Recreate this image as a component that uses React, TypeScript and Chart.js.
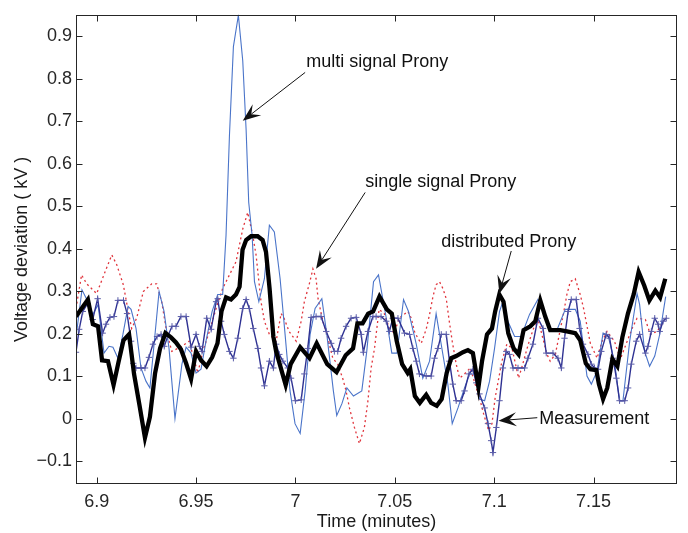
import React, { useEffect, useRef } from 'react';
import { Chart, registerables } from 'chart.js';

Chart.register(...registerables);

type Pt = [number, number];

const X_TICKS = [6.9, 6.95, 7, 7.05, 7.1, 7.15];
const Y_TICKS = [-0.1, 0, 0.1, 0.2, 0.3, 0.4, 0.5, 0.6, 0.7, 0.8, 0.9];
const X_MIN = 6.8896;
const X_MAX = 7.192;
const Y_MIN = -0.153;
const Y_MAX = 0.951;

const X_TITLE = 'Time (minutes)';
const Y_TITLE = 'Voltage deviation ( kV )';

const FONT = '"Liberation Sans", Arial, Helvetica, sans-serif';

// thick black line
const distributedProny: Pt[] = [
  [6.8896, 0.241], [6.8956, 0.281], [6.8981, 0.223], [6.9007, 0.218], [6.9027, 0.138], [6.9057, 0.136],
  [6.9085, 0.080], [6.9110, 0.134], [6.9135, 0.185], [6.9163, 0.199], [6.9188, 0.106], [6.9216, 0.031],
  [6.9243, -0.044], [6.9268, 0.005], [6.9294, 0.108], [6.9319, 0.166], [6.9346, 0.202], [6.9374, 0.192],
  [6.9399, 0.180], [6.9424, 0.164], [6.9450, 0.131], [6.9475, 0.094], [6.9500, 0.159], [6.9525, 0.138],
  [6.9553, 0.124], [6.9581, 0.145], [6.9608, 0.178], [6.9628, 0.253], [6.9651, 0.286], [6.9676, 0.281],
  [6.9701, 0.293], [6.9719, 0.311], [6.9734, 0.398], [6.9752, 0.421], [6.9777, 0.430], [6.9810, 0.430],
  [6.9835, 0.421], [6.9852, 0.393], [6.9870, 0.307], [6.9889, 0.194], [6.9903, 0.159], [6.9951, 0.080],
  [6.9976, 0.129], [7.0024, 0.169], [7.0071, 0.143], [7.0107, 0.178], [7.0160, 0.129], [7.0207, 0.110],
  [7.0253, 0.150], [7.0290, 0.166], [7.0312, 0.225], [7.0338, 0.225], [7.0366, 0.248], [7.0391, 0.253],
  [7.0423, 0.288], [7.0460, 0.258], [7.0485, 0.248], [7.0510, 0.183], [7.0537, 0.129], [7.0565, 0.108],
  [7.0578, 0.117], [7.0601, 0.054], [7.0626, 0.038], [7.0658, 0.057], [7.0683, 0.038], [7.0711, 0.031],
  [7.0736, 0.047], [7.0761, 0.108], [7.0784, 0.143], [7.0809, 0.148], [7.0843, 0.157], [7.0868, 0.162],
  [7.0893, 0.155], [7.0921, 0.075], [7.0939, 0.136], [7.0964, 0.199], [7.0989, 0.213], [7.1005, 0.253],
  [7.1026, 0.293], [7.1047, 0.276], [7.1071, 0.202], [7.1098, 0.166], [7.1123, 0.152], [7.1148, 0.209],
  [7.1182, 0.218], [7.1207, 0.230], [7.1232, 0.279], [7.1257, 0.241], [7.1282, 0.209], [7.1333, 0.209],
  [7.1366, 0.206], [7.1408, 0.202], [7.1433, 0.185], [7.1461, 0.131], [7.1484, 0.117], [7.1514, 0.115],
  [7.1527, 0.082], [7.1548, 0.047], [7.1569, 0.073], [7.1595, 0.141], [7.1620, 0.124], [7.1645, 0.192],
  [7.1673, 0.248], [7.1702, 0.293], [7.1727, 0.346], [7.1755, 0.314], [7.1781, 0.279], [7.1811, 0.302],
  [7.1835, 0.286], [7.1861, 0.330],
];

// thin blue line
const multiSignalProny: Pt[] = [
  [6.8896, 0.192], [6.8926, 0.304], [6.8956, 0.276], [6.8981, 0.246], [6.9007, 0.269], [6.9037, 0.155],
  [6.9062, 0.171], [6.9082, 0.169], [6.9107, 0.143], [6.9132, 0.199], [6.9158, 0.265], [6.9173, 0.258],
  [6.9198, 0.213], [6.9223, 0.120], [6.9248, 0.089], [6.9268, 0.073], [6.9314, 0.300], [6.9339, 0.253],
  [6.9364, 0.166], [6.9394, 0.001], [6.9429, 0.129], [6.9450, 0.169], [6.9475, 0.155], [6.9500, 0.108],
  [6.9525, 0.117], [6.9550, 0.183], [6.9581, 0.253], [6.9609, 0.293], [6.9634, 0.293], [6.9651, 0.433],
  [6.9668, 0.666], [6.9688, 0.876], [6.9713, 0.950], [6.9735, 0.843], [6.9752, 0.680], [6.9765, 0.510],
  [6.9782, 0.433], [6.9794, 0.323], [6.9816, 0.276], [6.9844, 0.330], [6.9869, 0.456], [6.9894, 0.440],
  [6.9923, 0.330], [6.9948, 0.199], [6.9973, 0.066], [6.9998, -0.011], [7.0024, -0.034], [7.0049, 0.066],
  [7.0074, 0.199], [7.0099, 0.260], [7.0133, 0.283], [7.0158, 0.199], [7.0191, 0.066], [7.0208, 0.008],
  [7.0234, 0.036], [7.0259, 0.073], [7.0292, 0.054], [7.0334, 0.066], [7.0359, 0.159], [7.0393, 0.323],
  [7.0418, 0.339], [7.0460, 0.230], [7.0485, 0.155], [7.0511, 0.155], [7.0544, 0.281], [7.0569, 0.253],
  [7.0608, 0.176], [7.0641, 0.096], [7.0675, 0.136], [7.0708, 0.248], [7.0742, 0.152], [7.0767, 0.082],
  [7.0789, -0.011], [7.0818, 0.026], [7.0851, 0.073], [7.0876, 0.106], [7.0910, 0.106], [7.0926, 0.047],
  [7.0952, 0.043], [7.0977, 0.089], [7.1002, 0.166], [7.1027, 0.253], [7.1044, 0.276], [7.1069, 0.230],
  [7.1103, 0.194], [7.1136, 0.194], [7.1178, 0.246], [7.1220, 0.281], [7.1254, 0.246], [7.1279, 0.206],
  [7.1313, 0.206], [7.1358, 0.258], [7.1408, 0.258], [7.1433, 0.230], [7.1467, 0.101], [7.1489, 0.082],
  [7.1518, 0.113], [7.1548, 0.202], [7.1573, 0.197], [7.1605, 0.136], [7.1631, 0.043], [7.1648, 0.043],
  [7.1682, 0.183], [7.1719, 0.295], [7.1732, 0.269], [7.1757, 0.159], [7.1782, 0.124], [7.1808, 0.148],
  [7.1833, 0.199], [7.1863, 0.288],
];

// red dotted line
const singleSignalProny: Pt[] = [
  [6.8896, 0.260], [6.8924, 0.339], [6.8950, 0.318], [6.9000, 0.295], [6.9042, 0.346], [6.9076, 0.386],
  [6.9101, 0.363], [6.9134, 0.316], [6.9159, 0.253], [6.9176, 0.213], [6.9201, 0.237], [6.9235, 0.300],
  [6.9277, 0.318], [6.9302, 0.318], [6.9327, 0.276], [6.9352, 0.206], [6.9378, 0.159], [6.9429, 0.171],
  [6.9465, 0.183], [6.9509, 0.108], [6.9534, 0.159], [6.9567, 0.206], [6.9601, 0.260], [6.9634, 0.307],
  [6.9668, 0.339], [6.9701, 0.370], [6.9735, 0.447], [6.9760, 0.486], [6.9785, 0.433], [6.9802, 0.386],
  [6.9827, 0.276], [6.9844, 0.230], [6.9869, 0.199], [6.9903, 0.183], [6.9928, 0.248], [6.9943, 0.237],
  [6.9968, 0.206], [7.0004, 0.183], [7.0029, 0.230], [7.0045, 0.276], [7.0070, 0.318], [7.0088, 0.353],
  [7.0104, 0.330], [7.0114, 0.283], [7.0138, 0.230], [7.0155, 0.206], [7.0188, 0.143], [7.0213, 0.129],
  [7.0239, 0.094], [7.0255, 0.066], [7.0272, 0.026], [7.0297, -0.020], [7.0322, -0.058], [7.0347, -0.020],
  [7.0365, 0.043], [7.0381, 0.120], [7.0398, 0.166], [7.0421, 0.258], [7.0447, 0.248], [7.0473, 0.213],
  [7.0497, 0.202], [7.0522, 0.237], [7.0566, 0.253], [7.0583, 0.237], [7.0599, 0.206], [7.0616, 0.190],
  [7.0633, 0.178], [7.0658, 0.211], [7.0675, 0.246], [7.0692, 0.288], [7.0708, 0.316], [7.0725, 0.323],
  [7.0742, 0.307], [7.0759, 0.283], [7.0772, 0.237], [7.0789, 0.183], [7.0809, 0.129], [7.0826, 0.096],
  [7.0851, 0.106], [7.0880, 0.120], [7.0910, 0.073], [7.0930, 0.043], [7.0947, 0.012], [7.0972, -0.027],
  [7.0989, -0.011], [7.1005, 0.050], [7.1039, 0.136], [7.1064, 0.176], [7.1090, 0.166], [7.1123, 0.096],
  [7.1148, 0.136], [7.1173, 0.178], [7.1198, 0.213], [7.1223, 0.230], [7.1266, 0.152], [7.1282, 0.136],
  [7.1308, 0.152], [7.1324, 0.190], [7.1349, 0.248], [7.1366, 0.293], [7.1383, 0.323], [7.1408, 0.330],
  [7.1433, 0.293], [7.1450, 0.260], [7.1484, 0.178], [7.1518, 0.143], [7.1543, 0.183], [7.1568, 0.206],
  [7.1605, 0.183], [7.1635, 0.141], [7.1694, 0.213], [7.1719, 0.237], [7.1761, 0.234], [7.1786, 0.199],
  [7.1820, 0.206], [7.1853, 0.230],
];

// navy line with + markers
const measurement: Pt[] = [
  [6.8896, 0.157], [6.8912, 0.211], [6.8930, 0.253], [6.8955, 0.272], [6.8980, 0.234], [6.9005, 0.283],
  [6.9030, 0.202], [6.9047, 0.223], [6.9067, 0.239], [6.9087, 0.241], [6.9107, 0.279], [6.9135, 0.279],
  [6.9153, 0.248], [6.9173, 0.183], [6.9184, 0.131], [6.9198, 0.120], [6.9223, 0.120], [6.9243, 0.120],
  [6.9263, 0.145], [6.9283, 0.176], [6.9304, 0.194], [6.9324, 0.199], [6.9340, 0.171], [6.9357, 0.194],
  [6.9379, 0.218], [6.9399, 0.218], [6.9424, 0.241], [6.9450, 0.241], [6.9475, 0.169], [6.9500, 0.199],
  [6.9517, 0.171], [6.9530, 0.159], [6.9554, 0.237], [6.9576, 0.211], [6.9601, 0.276], [6.9609, 0.283],
  [6.9626, 0.230], [6.9642, 0.199], [6.9668, 0.159], [6.9688, 0.143], [6.9710, 0.190], [6.9735, 0.260],
  [6.9752, 0.281], [6.9768, 0.260], [6.9788, 0.213], [6.9811, 0.166], [6.9827, 0.120], [6.9844, 0.078],
  [6.9869, 0.136], [6.9889, 0.120], [6.9903, 0.176], [6.9919, 0.152], [6.9937, 0.136], [6.9962, 0.120],
  [6.9978, 0.096], [7.0000, 0.043], [7.0029, 0.045], [7.0045, 0.106], [7.0062, 0.166], [7.0079, 0.239],
  [7.0104, 0.241], [7.0129, 0.241], [7.0155, 0.206], [7.0180, 0.178], [7.0196, 0.159], [7.0213, 0.159],
  [7.0230, 0.190], [7.0255, 0.218], [7.0280, 0.237], [7.0306, 0.239], [7.0331, 0.199], [7.0342, 0.157],
  [7.0365, 0.206], [7.0390, 0.241], [7.0406, 0.241], [7.0431, 0.241], [7.0457, 0.230], [7.0473, 0.206],
  [7.0490, 0.237], [7.0516, 0.237], [7.0549, 0.202], [7.0574, 0.199], [7.0591, 0.166], [7.0608, 0.136],
  [7.0624, 0.106], [7.0658, 0.101], [7.0683, 0.101], [7.0700, 0.143], [7.0717, 0.166], [7.0734, 0.199],
  [7.0759, 0.199], [7.0775, 0.136], [7.0792, 0.082], [7.0809, 0.043], [7.0834, 0.043], [7.0851, 0.066],
  [7.0873, 0.106], [7.0893, 0.117], [7.0910, 0.085], [7.0926, 0.059], [7.0952, 0.026], [7.0969, -0.011],
  [7.0985, -0.051], [7.0994, -0.079], [7.1011, -0.020], [7.1027, 0.043], [7.1044, 0.120], [7.1061, 0.159],
  [7.1077, 0.152], [7.1095, 0.120], [7.1120, 0.120], [7.1153, 0.120], [7.1170, 0.143], [7.1195, 0.176],
  [7.1220, 0.237], [7.1246, 0.213], [7.1262, 0.155], [7.1296, 0.155], [7.1321, 0.143], [7.1338, 0.120],
  [7.1354, 0.190], [7.1372, 0.253], [7.1388, 0.281], [7.1413, 0.281], [7.1430, 0.213], [7.1447, 0.176],
  [7.1472, 0.152], [7.1489, 0.129], [7.1505, 0.120], [7.1523, 0.117], [7.1539, 0.159], [7.1564, 0.199],
  [7.1581, 0.190], [7.1598, 0.143], [7.1615, 0.096], [7.1631, 0.043], [7.1657, 0.043], [7.1674, 0.073],
  [7.1690, 0.129], [7.1715, 0.183], [7.1732, 0.199], [7.1761, 0.155], [7.1774, 0.171], [7.1791, 0.206],
  [7.1808, 0.237], [7.1825, 0.223], [7.1833, 0.206], [7.1850, 0.230], [7.1866, 0.237],
];

// text annotations with arrows (data coordinates)
type Note = { text: string; at: Pt; from: Pt; to: Pt };
const NOTES: Note[] = [
  { text: 'multi signal Prony', at: [7.0054, 0.8387], from: [7.0049, 0.8154], to: [6.9735, 0.7017] },
  { text: 'single signal Prony', at: [7.0351, 0.5586], from: [7.0351, 0.533], to: [7.0104, 0.3532] },
  { text: 'distributed Prony', at: [7.0734, 0.4162], from: [7.1086, 0.3952], to: [7.1026, 0.2948] },
  { text: 'Measurement', at: [7.1227, 0.0007], from: [7.1217, 0.003], to: [7.1022, -0.004] },
];

const toXY = (arr: Pt[]) => arr.map(([x, y]) => ({ x, y }));

const frameAndNotes = {
  id: 'frameAndNotes',
  afterDatasetsDraw(chart: any) {
    const { ctx, chartArea, scales } = chart;
    const xs = scales.x;
    const ys = scales.y;
    const L = Math.round(chartArea.left) + 0.5;
    const R = Math.round(chartArea.right) - 0.5;
    const T = Math.round(chartArea.top) + 0.5;
    const B = Math.round(chartArea.bottom) - 0.5;
    ctx.save();
    ctx.strokeStyle = '#262626';
    ctx.lineWidth = 1;
    ctx.strokeRect(L, T, R - L, B - T);
    const tl = 6;
    ctx.beginPath();
    X_TICKS.forEach((v) => {
      const px = Math.round(xs.getPixelForValue(v)) + 0.5;
      ctx.moveTo(px, B);
      ctx.lineTo(px, B - tl);
      ctx.moveTo(px, T);
      ctx.lineTo(px, T + tl);
    });
    Y_TICKS.forEach((v) => {
      const py = Math.round(ys.getPixelForValue(v)) + 0.5;
      ctx.moveTo(L, py);
      ctx.lineTo(L + tl, py);
      ctx.moveTo(R, py);
      ctx.lineTo(R - tl, py);
    });
    ctx.stroke();

    // annotations
    ctx.font = `18px ${FONT}`;
    ctx.fillStyle = '#111';
    ctx.textAlign = 'left';
    ctx.textBaseline = 'middle';
    NOTES.forEach((n) => {
      const tx = xs.getPixelForValue(n.at[0]);
      const ty = ys.getPixelForValue(n.at[1]);
      ctx.fillStyle = '#111';
      ctx.fillText(n.text, tx, ty);
      const x0 = xs.getPixelForValue(n.from[0]);
      const y0 = ys.getPixelForValue(n.from[1]);
      const x1 = xs.getPixelForValue(n.to[0]);
      const y1 = ys.getPixelForValue(n.to[1]);
      const dx = x1 - x0;
      const dy = y1 - y0;
      const len = Math.hypot(dx, dy);
      const ux = dx / len;
      const uy = dy / len;
      const nx = -uy;
      const ny = ux;
      const hl = 18;
      const hw = 7;
      const notch = 0.6 * hl;
      ctx.strokeStyle = '#111';
      ctx.lineWidth = 1;
      ctx.beginPath();
      ctx.moveTo(x0, y0);
      ctx.lineTo(x1 - ux * notch, y1 - uy * notch);
      ctx.stroke();
      ctx.beginPath();
      ctx.moveTo(x1, y1);
      ctx.lineTo(x1 - ux * hl + nx * hw, y1 - uy * hl + ny * hw);
      ctx.lineTo(x1 - ux * notch, y1 - uy * notch);
      ctx.lineTo(x1 - ux * hl - nx * hw, y1 - uy * hl - ny * hw);
      ctx.closePath();
      ctx.fill();
    });
    ctx.restore();
  },
};

export default function App() {
  const ref = useRef<HTMLCanvasElement | null>(null);

  useEffect(() => {
    if (!ref.current) return;
    const tickFont = { family: FONT, size: 18 };
    const chart = new Chart(ref.current, {
      type: 'line',
      data: {
        datasets: [
          {
            label: 'distributed Prony',
            data: toXY(distributedProny),
            borderColor: '#000000',
            borderWidth: 4.3,
            pointRadius: 0,
            tension: 0,
          },
          {
            label: 'Measurement',
            data: toXY(measurement),
            borderColor: '#2e3192',
            borderWidth: 1.4,
            pointStyle: 'cross',
            pointRadius: 3.2,
            pointBorderColor: '#5a5ca8',
            pointBorderWidth: 1,
            pointBackgroundColor: '#5a5ca8',
            tension: 0,
          },
          {
            label: 'multi signal Prony',
            data: toXY(multiSignalProny),
            borderColor: '#4a74c9',
            borderWidth: 1.1,
            pointRadius: 0,
            tension: 0,
          },
          {
            label: 'single signal Prony',
            data: toXY(singleSignalProny),
            borderColor: '#e0343c',
            borderWidth: 1.3,
            borderDash: [2, 3],
            pointRadius: 0,
            tension: 0,
          },
        ],
      },
      options: {
        animation: false,
        responsive: false,
        devicePixelRatio: 1,
        events: [],
        layout: { padding: { left: 0, right: 11, top: 11, bottom: 0 } },
        plugins: {
          legend: { display: false },
          tooltip: { enabled: false },
        },
        scales: {
          x: {
            type: 'linear',
            min: X_MIN,
            max: X_MAX,
            grid: { display: false, drawTicks: false },
            border: { display: false },
            afterBuildTicks: (scale: any) => {
              scale.ticks = X_TICKS.map((value) => ({ value }));
            },
            afterFit: (scale: any) => {
              scale.height = 49;
            },
            ticks: {
              font: tickFont,
              color: '#262626',
              padding: 7,
              maxRotation: 0,
              autoSkip: false,
              callback: (v: any) => String(Number(Number(v).toFixed(2))),
            },
            title: {
              display: true,
              text: X_TITLE,
              font: tickFont,
              color: '#1a1a1a',
              padding: { top: 0, bottom: 0.5 },
            },
          },
          y: {
            type: 'linear',
            min: Y_MIN,
            max: Y_MAX,
            grid: { display: false, drawTicks: false },
            border: { display: false },
            afterBuildTicks: (scale: any) => {
              scale.ticks = Y_TICKS.map((value) => ({ value }));
            },
            afterFit: (scale: any) => {
              scale.width = 76;
            },
            ticks: {
              font: tickFont,
              color: '#262626',
              padding: 4,
              autoSkip: false,
              callback: (v: any) => {
                const n = Number(Number(v).toFixed(1));
                return n < 0 ? '\u2212' + String(Math.abs(n)) : String(n);
              },
            },
            title: {
              display: true,
              text: Y_TITLE,
              font: tickFont,
              color: '#1a1a1a',
              padding: { top: 11, bottom: 0 },
            },
          },
        },
      },
      plugins: [frameAndNotes],
    } as any);
    return () => chart.destroy();
  }, []);

  return (
    <div style={{ position: 'absolute', left: 0, top: 0, width: 688, height: 533, background: '#ffffff' }}>
      <canvas ref={ref} width={688} height={533} style={{ display: 'block' }} />
    </div>
  );
}
